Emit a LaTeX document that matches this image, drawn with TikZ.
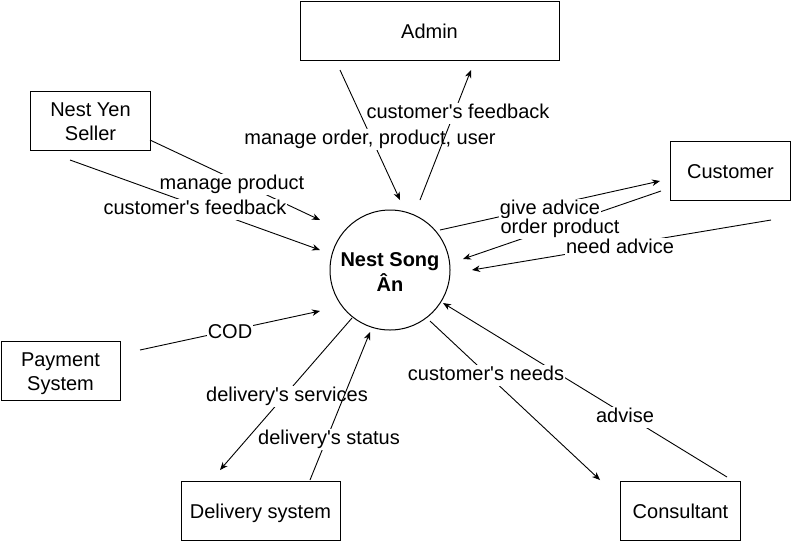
\documentclass[tikz,border=0pt]{standalone}
\usepackage{fontspec}
\setmainfont{Liberation Sans}
\usetikzlibrary{arrows.meta}
\newcommand\qap{\textquotesingle}
\newcommand\etext[1]{\raisebox{-2.8pt}[\height][\depth]{\begin{tabular}{@{}c@{}}#1\end{tabular}}}
\newcommand\ptext[1]{\raisebox{-4pt}[\height][\depth]{\begin{tabular}{@{}c@{}}#1\end{tabular}}}
\begin{document}
\begin{tikzpicture}[x=1pt,y=-1pt,
  entity/.style={draw=black, line width=1pt, inner sep=0pt,
    font=\fontsize{20}{24}\selectfont},
  proc/.style={draw=black, line width=1pt, circle, inner sep=0pt, minimum size=120pt,
    font=\fontsize{20}{23}\selectfont\bfseries},
  flow/.style={line width=0.9pt, -{Stealth[length=8pt,width=6.5pt,inset=2.5pt]}},
  lbl/.style={fill=white, inner xsep=1pt, inner ysep=0pt, text height=15pt,
    text depth=5.5pt, yshift=-2.4pt, font=\fontsize{20}{24}\selectfont}]
\useasboundingbox (0,0) rectangle (791,542);
\fill[white] (0,0) rectangle (791,542);
% entities
\node[entity, minimum width=259pt, minimum height=59pt] (admin) at (429.5,30.5) {\etext{Admin}};
\node[entity, minimum width=120pt, minimum height=59pt] (seller) at (90.5,120.5) {\etext{Nest Yen\\Seller}};
\node[entity, minimum width=120pt, minimum height=59pt] (customer) at (730.5,170.5) {\etext{Customer}};
\node[entity, minimum width=119pt, minimum height=59pt] (payment) at (60.5,370.5) {\etext{Payment\\System}};
\node[entity, minimum width=159pt, minimum height=59pt] (delivery) at (260.5,510.5) {\etext{Delivery system}};
\node[entity, minimum width=120pt, minimum height=59pt] (consultant) at (680.5,510.5) {\etext{Consultant}};
\node[proc] (nest) at (390,270) {\ptext{Nest Song\\Ân}};
% connector end points
\coordinate (a1) at (340,70);  \coordinate (a2) at (400,200);
\coordinate (b1) at (420,200); \coordinate (b2) at (471,70);
\coordinate (s1) at (150,140); \coordinate (s2) at (320,220);
\coordinate (t1) at (70,160);  \coordinate (t2) at (320,250);
\coordinate (c1) at (440,230); \coordinate (c2) at (660,181);
\coordinate (d1) at (661,191); \coordinate (d2) at (463,259);
\coordinate (e1) at (771,220); \coordinate (e2) at (472,270);
\coordinate (p1) at (140,350); \coordinate (p2) at (320,311);
\coordinate (v1) at (352,318); \coordinate (v2) at (220,470);
\coordinate (w1) at (310,480); \coordinate (w2) at (370,332);
\coordinate (n1) at (430,321); \coordinate (n2) at (600,480);
\coordinate (m1) at (727,477); \coordinate (m2) at (443,303);
% admin
\draw[flow] (a1) -- (a2);
\node[lbl] (la) at (370,137) {manage order, product, user};
\draw[flow] (b1) -- (b2);
\node[lbl] (lb) at (458,111) {customer\qap s feedback};
% seller
\draw[flow] (s1) -- (s2);
\node[lbl] (ls) at (232,182) {manage product};
\draw[flow] (t1) -- (t2);
\node[lbl] (lt) at (195,207) {customer\qap s feedback};
% customer
\draw[flow] (c1) -- (c2);
\draw[flow] (d1) -- (d2);
\draw[flow] (e1) -- (e2);
\node[lbl] (lc) at (550,207) {give advice};
\node[lbl] (ld) at (560,226) {order product};
\node[lbl] (le) at (620,246) {need advice};
% payment
\draw[flow] (p1) -- (p2);
\node[lbl] (lp) at (230,331) {COD};
% delivery
\draw[flow] (v1) -- (v2);
\node[lbl] (lv) at (287,394) {delivery\qap s services};
\draw[flow] (w1) -- (w2);
\node[lbl] (lw) at (329,437) {delivery\qap s status};
% consultant
\draw[flow] (n1) -- (n2);
\draw[flow] (m1) -- (m2);
\node[lbl] (lm) at (625,415) {advise};
\node[lbl] (ln) at (486,373) {customer\qap s needs};
\end{tikzpicture}
\end{document}
